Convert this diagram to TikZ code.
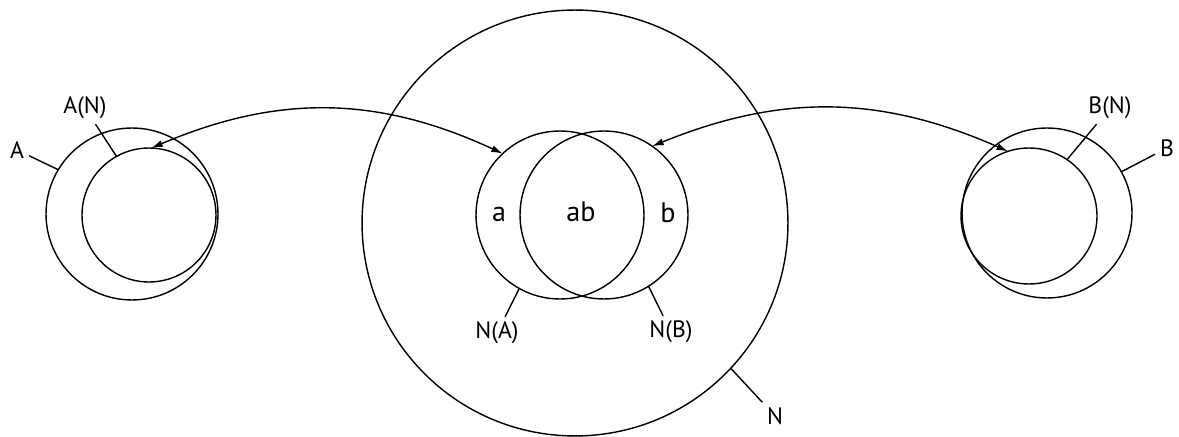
\documentclass[tikz,border=0pt]{standalone}
\usepackage{fontspec}
\setmainfont{PT Sans}
\usetikzlibrary{arrows.meta}
\begin{document}
\begin{tikzpicture}[x=0.02cm, y=0.02cm, line width=0.8pt,
    ring/.style={circle, draw, minimum size=#1, inner sep=0pt, outer sep=0pt},
    lbl/.style={font=\fontsize{13.5}{15}\selectfont, inner sep=2.5pt},
    part/.style={font=\fontsize{16}{18}\selectfont},
    link/.style={{Latex[length=6.5pt,width=4pt]}-{Latex[length=6.5pt,width=4pt]}}]
    \useasboundingbox (0,0) rectangle (1179,436);

    % 大圆 N
    \node[ring=8.52cm] (N) at (575,213) {};

    % 中间两个相交的圆
    \node[ring=3.36cm] (NA) at (560,221) {};
    \node[ring=3.36cm] (NB) at (604,221) {};
    \node[part] (a) at (499,222) {a};
    \node[part] (ab) at (581,224) {ab};
    \node[part] (b) at (668,223) {b};

    % 左边 A 与 A(N)
    \node[ring=3.44cm] (A) at (132,222) {};
    \node[ring=2.68cm] (AN) at (149,221) {};

    % 右边 B 与 B(N)
    \node[ring=3.4cm] (B) at (1047,223) {};
    \node[ring=2.72cm] (BN) at (1029,220) {};

    % 标注
    \node[lbl] (lA) at (17,286) {A};
    \node[lbl] (lAN) at (85,328) {A(N)};
    \node[lbl] (lB) at (1167,288) {B};
    \node[lbl] (lBN) at (1110,328) {B(N)};
    \node[lbl] (lNA) at (497,103) {N(A)};
    \node[lbl] (lNB) at (671,104) {N(B)};
    \node[lbl] (lN) at (775,20) {N};
    \draw (lA) -- (A.149);
    \draw (lAN) -- (AN.119);
    \draw (lB) -- (B.29);
    \draw (lBN) -- (BN.56);
    \draw (lNA) -- (NA.-119);
    \draw (lNB) -- (NB.-58);
    \draw (lN) -- (N.-43);

    % 双向箭头
    \draw[link] (AN.88) to[bend left=24] (NA.133);
    \draw[link] (NB.55) to[bend left=23] (BN.108);
\end{tikzpicture}
\end{document}
